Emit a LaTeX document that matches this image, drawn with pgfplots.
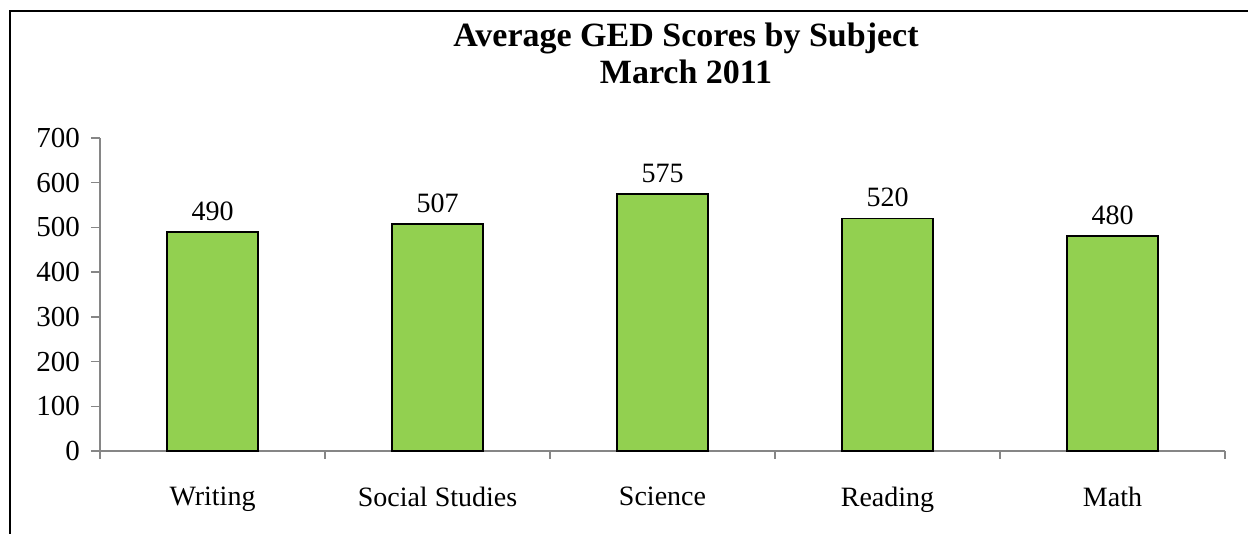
\documentclass[border=0pt]{standalone}
\usepackage{fontspec}
\setmainfont{Liberation Serif}
\usepackage{pgfplots}
\pgfplotsset{compat=1.18}
\definecolor{bargreen}{HTML}{92D050}
\definecolor{axgray}{HTML}{868686}
\begin{document}
\begin{tikzpicture}
\useasboundingbox (0,0) rectangle (624bp,267bp);
% chart frame (left and top edges visible)
\draw[line width=1.1bp] (5bp,0) -- (5bp,261.5bp) -- (624bp,261.5bp);
\node[font=\fontsize{17bp}{19bp}\selectfont\bfseries, anchor=base] at (343bp,243.5bp) {Average GED Scores by Subject};
\node[font=\fontsize{17bp}{19bp}\selectfont\bfseries, anchor=base] at (343bp,225bp) {March 2011};
\begin{axis}[
  at={(50bp,41.5bp)}, anchor=south west,
  scale only axis, width=562.5bp, height=156.5bp,
  xmin=-0.5, xmax=4.5, ymin=0, ymax=700,
  axis x line=bottom, axis y line=left,
  axis line style={axgray, line width=0.7bp, -},
  ytick={0,100,...,700},
  xtick={0,1,2,3,4},
  xticklabels={Writing, Social Studies, Science, Reading, Math},
  minor xtick={-0.5,0.5,1.5,2.5,3.5,4.5},
  tick align=outside,
  major tick length=4.5bp, minor tick length=4bp,
  major x tick style={draw=none},
  tick style={axgray, line width=0.7bp},
  minor tick style={axgray, line width=0.7bp},
  /pgf/number format/assume math mode=true,
  tick label style={font=\fontsize{14.5bp}{16bp}\selectfont, black},
  yticklabel style={xshift=-2bp},
  xticklabel style={font=\fontsize{14bp}{16bp}\selectfont, yshift=-10bp},
  ybar, bar width=45.5bp,
  nodes near coords,
  nodes near coords style={font=\fontsize{14bp}{16bp}\selectfont, black, yshift=2bp},
  clip=false,
]
\addplot[draw=black, line width=0.9bp, fill=bargreen] coordinates {(0,490) (1,507) (2,575) (3,520) (4,480)};
\end{axis}
\end{tikzpicture}
\end{document}
